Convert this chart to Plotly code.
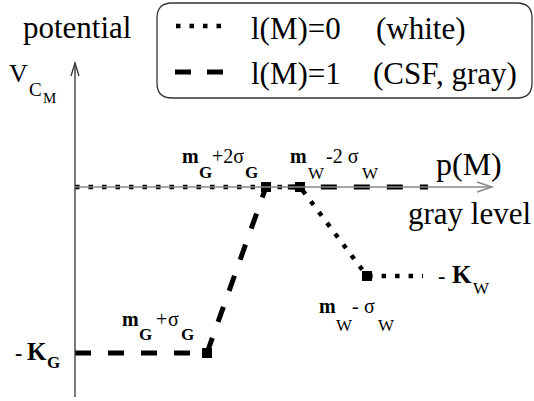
import plotly.graph_objects as go

# Piecewise-linear potentials V_CM against gray level p(M)
white_level = [0, 225, 292, 348]        # l(M)=0 (white)
white_potential = [0, 0, -89, -89]
csf_level = [0, 132, 191, 353]          # l(M)=1 (CSF, gray)
csf_potential = [-166, -166, 0, 0]

W, H = 534, 401
X0, Y0 = 75, 187  # pixel position of the origin
FONT = "Liberation Serif"


def px(x):
    return x / W


def py(y):
    return 1 - y / H


fig = go.Figure()

fig.add_trace(go.Scatter(
    x=white_level, y=white_potential, mode="lines",
    line=dict(color="black", width=4.5, dash="4.5px,9px"),
    hoverinfo="skip", showlegend=False))
fig.add_trace(go.Scatter(
    x=csf_level, y=csf_potential, mode="lines",
    line=dict(color="black", width=5, dash="16px,17px"),
    hoverinfo="skip", showlegend=False))
# breakpoints
fig.add_trace(go.Scatter(
    x=white_level[1:3] + csf_level[1:3],
    y=white_potential[1:3] + csf_potential[1:3],
    mode="markers", marker=dict(symbol="square", size=10, color="black"),
    hoverinfo="skip", showlegend=False))

shapes = []
# axes with open arrowheads
shapes.append(dict(type="line", xref="paper", yref="paper",
                   x0=px(X0), y0=py(397), x1=px(X0), y1=py(63),
                   line=dict(color="#333", width=1.3)))
shapes.append(dict(type="path", xref="paper", yref="paper",
                   path=f"M{px(X0-4)},{py(76)} L{px(X0)},{py(63)} L{px(X0+4)},{py(76)}",
                   line=dict(color="#333", width=1.3)))
shapes.append(dict(type="line", xref="paper", yref="paper",
                   x0=px(X0), y0=py(Y0), x1=px(491), y1=py(Y0),
                   line=dict(color="#888", width=1.5)))
shapes.append(dict(type="path", xref="paper", yref="paper",
                   path=f"M{px(477)},{py(Y0-5)} L{px(492)},{py(Y0)} L{px(477)},{py(Y0+5)}",
                   line=dict(color="#888", width=1.5)))

# legend frame with rounded corners
L, T, R, B, r = 157, 3, 532, 98, 15
frame = (f"M{px(L+r)},{py(T)} L{px(R-r)},{py(T)} Q{px(R)},{py(T)} {px(R)},{py(T+r)} "
         f"L{px(R)},{py(B-r)} Q{px(R)},{py(B)} {px(R-r)},{py(B)} "
         f"L{px(L+r)},{py(B)} Q{px(L)},{py(B)} {px(L)},{py(B-r)} "
         f"L{px(L)},{py(T+r)} Q{px(L)},{py(T)} {px(L+r)},{py(T)} Z")
shapes.append(dict(type="path", xref="paper", yref="paper", path=frame,
                   line=dict(color="#333", width=1.3)))
shapes.append(dict(type="line", xref="paper", yref="paper",
                   x0=px(176), y0=py(26), x1=px(222), y1=py(26),
                   line=dict(color="black", width=4.5, dash="4.5px,9px")))
shapes.append(dict(type="line", xref="paper", yref="paper",
                   x0=px(175), y0=py(72), x1=px(224), y1=py(72),
                   line=dict(color="black", width=5, dash="16px,16px")))

annotations = []


def txt(s, x, base, size, bold=False):
    if bold:
        s = f"<b>{s}</b>"
    annotations.append(dict(
        text=s, xref="paper", yref="paper", x=px(x), y=py(base - 0.34 * size),
        xanchor="left", yanchor="middle", showarrow=False, borderpad=0,
        font=dict(family=FONT, size=size, color="black")))


txt("potential", 22, 38, 31)
txt("V", 8, 82, 26)
txt("C", 28, 96, 19)
txt("M", 42, 103, 15)

txt("l(M)=0", 250, 39, 31)
txt("(white)", 375, 39, 31)
txt("l(M)=1", 250, 84, 31)
txt("(CSF, gray)", 372, 84, 31)

txt("p(M)", 435, 175, 32)
txt("gray level", 407, 224, 31)

txt("m", 181, 163, 20, True)
txt("G", 198, 178, 17, True)
txt("+2σ", 211, 163, 20)
txt("G", 244, 178, 17, True)

txt("m", 289, 163, 20, True)
txt("W", 307, 179, 17)
txt("-2 σ", 325, 163, 20)
txt("W", 361, 179, 17)

txt("m", 121, 326, 20, True)
txt("G", 138, 340, 17, True)
txt("+", 155, 326, 20)
txt("σ", 167, 326, 20)
txt("G", 180, 340, 17, True)

txt("m", 318, 313, 20, True)
txt("W", 335, 331, 17)
txt("-", 351, 313, 20)
txt("σ", 363, 313, 20)
txt("W", 377, 331, 17)

txt("-", 14, 360, 22, True)
txt("K", 26, 360, 25, True)
txt("G", 46, 368, 17, True)

txt("-", 437, 283, 22, True)
txt("K", 451, 283, 25, True)
txt("W", 472, 294, 17)

fig.update_layout(
    width=W, height=H,
    margin=dict(l=0, r=0, t=0, b=0),
    paper_bgcolor="white", plot_bgcolor="white",
    xaxis=dict(range=[-X0, W - X0], visible=False, fixedrange=True),
    yaxis=dict(range=[Y0 - H, Y0], visible=False, fixedrange=True),
    shapes=shapes, annotations=annotations,
)

fig.write_html("out.html")
